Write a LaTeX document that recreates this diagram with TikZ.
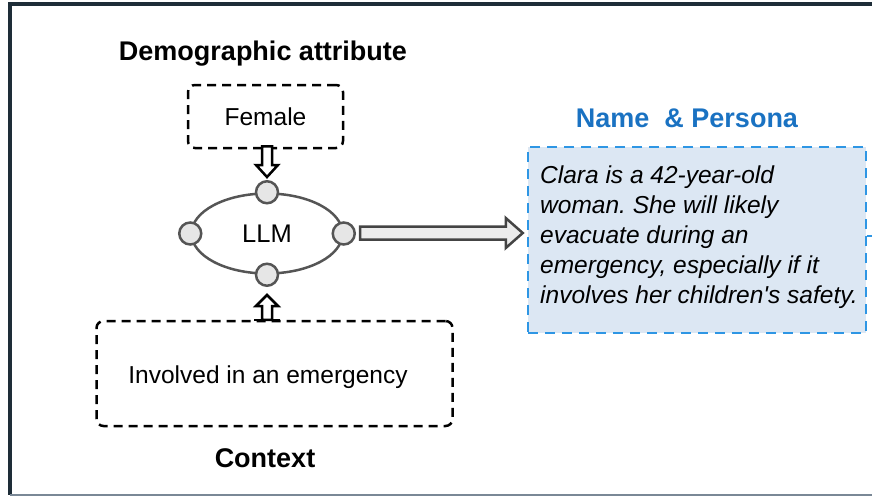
\documentclass[tikz,border=0pt]{standalone}
\usepackage{fontspec}
\setmainfont{Liberation Sans}
\usetikzlibrary{shapes.geometric,calc}
\frenchspacing
\definecolor{framec}{HTML}{1E2D38}
\definecolor{botc}{HTML}{7A8896}
\definecolor{titleblue}{HTML}{1A72C2}
\definecolor{boxblue}{HTML}{2E96E4}
\definecolor{boxfill}{HTML}{DCE7F3}
\definecolor{llmgray}{HTML}{555555}
\definecolor{dotfill}{HTML}{E6E6E6}
\definecolor{arrowfill}{HTML}{ECECEC}
\definecolor{arrowline}{HTML}{444444}
\begin{document}
\begin{tikzpicture}[x=1pt,y=-1pt,
  titletext/.style={anchor=base, inner sep=0, font=\fontsize{27}{32}\selectfont\bfseries},
  labeltext/.style={anchor=base, inner sep=0, font=\fontsize{24.5}{30}\selectfont},
  dashbox/.style={draw=black, line width=2.5pt, dash pattern=on 9pt off 6pt, rounded corners=7pt, inner sep=0},
  dot/.style={circle, draw=llmgray, fill=dotfill, line width=2.5pt, minimum size=22pt, inner sep=0},
  blackarrow/.style={draw=black, fill=white, line width=2.5pt, line join=miter},
  grayarrow/.style={draw=arrowline, fill=arrowfill, line width=2.5pt, line join=miter}]
\useasboundingbox (0,0) rectangle (872,498);
% frame
\draw[framec, line width=4pt] (872,4) -- (10,4) -- (10,495);
\draw[botc, line width=2pt] (10,495) -- (872,495);

% demographic attribute
\node[titletext] (demo) at (263,60) {Demographic attribute};
\node[dashbox, minimum width=155pt, minimum height=63pt, font=\fontsize{24.5}{30}\selectfont] (female) at (265.5,116.5) {Female};

% LLM
\node[draw=llmgray, line width=2.5pt, ellipse, minimum width=151pt, minimum height=80pt, inner sep=0, font=\fontsize{25.5}{30}\selectfont] (llm) at (267,233.5) {LLM};
\node[dot] (ctop) at (llm.north) {};
\node[dot] (cbot) at (llm.south) {};
\node[dot] (cleft) at (llm.west) {};
\node[dot] (cright) at (llm.east) {};

% context
\node[dashbox, minimum width=356pt, minimum height=105pt] (context) at (274.5,373.5) {};
\node[labeltext] (ctxtext) at (268,383) {Involved in an emergency};
\node[titletext] (ctxtitle) at (265,467) {Context};

% persona
\node[titletext, text=titleblue] (ptitle) at (687,127) {Name~ \& Persona};
\node[draw=boxblue, fill=boxfill, line width=2.5pt, dash pattern=on 10pt off 7pt, minimum width=338pt, minimum height=186pt, inner sep=0] (persona) at (697,240) {};
\node[anchor=base west, align=left, inner sep=0, font=\itshape\fontsize{24.5}{30}\selectfont] (ptext) at (540,303)
  {Clara is a 42-year-old\\woman. She will likely\\evacuate during an\\emergency, especially if it\\involves her children\textquotesingle s safety.};
\coordinate (stubA) at ($(persona.east)+(0,-4)$);
\coordinate (stubB) at (872,236);
\draw[boxblue, line width=2pt] (stubA) -- (stubA -| stubB);

% down arrow female -> LLM
\coordinate (dtip) at ($(ctop.north)+(0,-3)$);
\coordinate (dtop) at ($(female.south -| dtip)+(0,-3)$);
\draw[blackarrow] ($(dtop)+(-5,0)$) -- ($(dtop)+(5,0)$) -- ($(dtip)+(5,-12)$) -- ++(6,0) -- (dtip) -- ++(-11,-12) -- ++(6,0) -- cycle;

% up arrow context -> LLM
\coordinate (utip) at ($(cbot.south)+(0,8)$);
\coordinate (ubase) at (context.north -| utip);
\draw[blackarrow] ($(ubase)+(-5,0)$) -- ($(utip)+(-5,11)$) -- ++(-6,0) -- (utip) -- ++(11,11) -- ++(-6,0) -- ($(ubase)+(5,0)$) -- cycle;
\draw[black, line width=2.5pt] ($(ubase)+(-13,0)$) -- ($(ubase)+(13,0)$);

% right arrow LLM -> persona
\coordinate (rs) at ($(cright.east)+(4,-0.5)$);
\coordinate (rt) at ($(persona.west |- rs)+(-4,0)$);
\draw[grayarrow] ($(rs)+(0,-6.5)$) -- ($(rt)+(-17,-6.5)$) -- ++(0,-8.5) -- (rt) -- ++(-17,15) -- ++(0,-8.5) -- ($(rs)+(0,6.5)$) -- cycle;
\end{tikzpicture}
\end{document}
